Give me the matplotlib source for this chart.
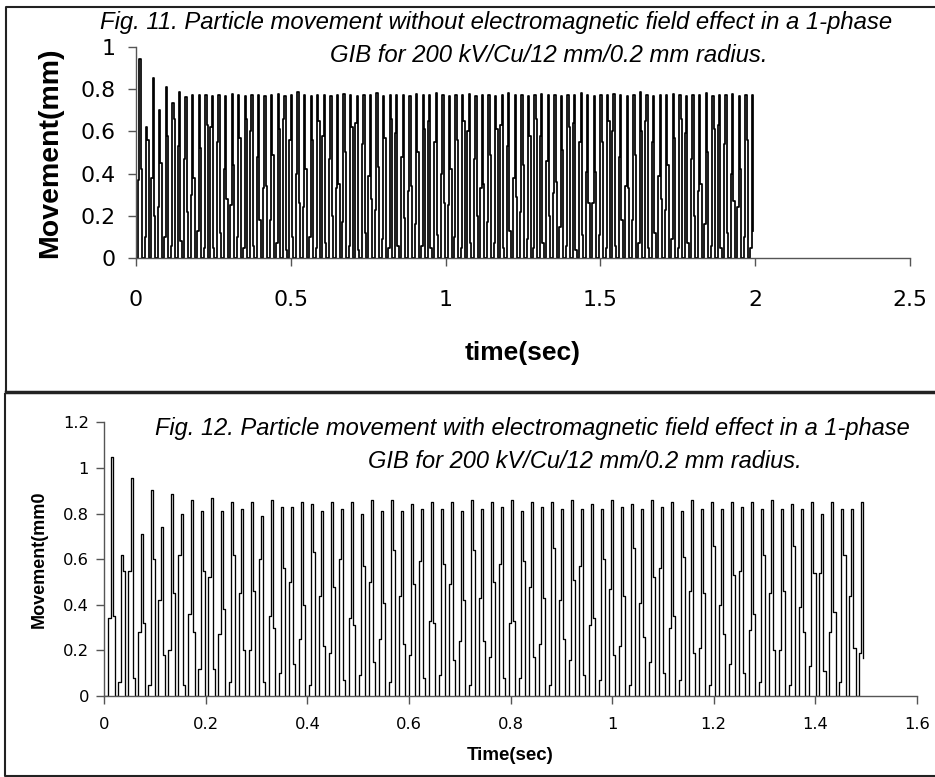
import numpy as np
import matplotlib
matplotlib.use('Agg')
import matplotlib.pyplot as plt
from matplotlib.lines import Line2D

plt.rcParams['font.family'] = ['Liberation Sans', 'DejaVu Sans']

# ---- Fig. 11: without electromagnetic field (one entry per bounce) ----
top_t0 = 0.0022       # first lift-off (s)
top_period = 0.02127  # time between lift-offs (s)
top_peak = [
    0.94, 0.62, 0.85, 0.70, 0.81, 0.735, 0.785, 0.76, 0.77, 0.77, 0.77, 0.765,
    0.77, 0.765, 0.775, 0.77, 0.765, 0.77, 0.77, 0.765, 0.77, 0.775, 0.765, 0.77,
    0.785, 0.77, 0.765, 0.77, 0.77, 0.765, 0.77, 0.775, 0.77, 0.765, 0.77, 0.77,
    0.78, 0.765, 0.77, 0.77, 0.77, 0.765, 0.775, 0.77, 0.77, 0.78, 0.77, 0.765,
    0.77, 0.77, 0.775, 0.765, 0.77, 0.77, 0.765, 0.77, 0.78, 0.77, 0.77, 0.765,
    0.77, 0.775, 0.77, 0.77, 0.765, 0.77, 0.77, 0.78, 0.77, 0.765, 0.77, 0.77,
    0.775, 0.77, 0.765, 0.77, 0.785, 0.77, 0.765, 0.77, 0.77, 0.775, 0.77, 0.765,
    0.77, 0.77, 0.78, 0.765, 0.77, 0.77, 0.775, 0.765, 0.77, 0.77]
top_up = [
    0.37, 0.10, 0.38, 0.24, 0.10, 0.06, 0.53, 0.47, 0.30, 0.13, 0.05, 0.62,
    0.55, 0.42, 0.25, 0.10, 0.05, 0.60, 0.48, 0.33, 0.18, 0.07, 0.66, 0.56,
    0.40, 0.24, 0.10, 0.05, 0.58, 0.47, 0.33, 0.17, 0.06, 0.64, 0.54, 0.39,
    0.23, 0.09, 0.05, 0.59, 0.48, 0.32, 0.16, 0.06, 0.65, 0.55, 0.40, 0.25,
    0.10, 0.05, 0.60, 0.47, 0.33, 0.17, 0.07, 0.63, 0.53, 0.38, 0.22, 0.09,
    0.05, 0.58, 0.46, 0.31, 0.15, 0.06, 0.64, 0.55, 0.41, 0.26, 0.11, 0.05,
    0.60, 0.48, 0.34, 0.18, 0.07, 0.65, 0.55, 0.39, 0.23, 0.09, 0.05, 0.59,
    0.47, 0.32, 0.16, 0.06, 0.63, 0.54, 0.40, 0.24, 0.10, 0.05]
top_down = [
    0.42, 0.56, 0.20, 0.45, 0.58, 0.66, 0.08, 0.22, 0.38, 0.52, 0.63, 0.05,
    0.12, 0.28, 0.44, 0.57, 0.66, 0.06, 0.18, 0.34, 0.49, 0.61, 0.04, 0.10,
    0.26, 0.42, 0.56, 0.65, 0.07, 0.20, 0.35, 0.50, 0.62, 0.04, 0.12, 0.28,
    0.43, 0.57, 0.66, 0.06, 0.19, 0.34, 0.50, 0.61, 0.05, 0.11, 0.26, 0.42,
    0.56, 0.65, 0.07, 0.20, 0.35, 0.49, 0.61, 0.05, 0.13, 0.29, 0.44, 0.58,
    0.66, 0.07, 0.20, 0.36, 0.51, 0.62, 0.04, 0.11, 0.26, 0.41, 0.55, 0.65,
    0.06, 0.18, 0.33, 0.49, 0.60, 0.05, 0.12, 0.28, 0.44, 0.57, 0.66, 0.07,
    0.20, 0.35, 0.50, 0.61, 0.05, 0.12, 0.27, 0.42, 0.56, 0.13]

# ---- Fig. 12: with electromagnetic field ----
bot_t0 = 0.0038
bot_period = 0.01971
bot_peak = [
    1.05, 0.62, 0.955, 0.71, 0.905, 0.74, 0.885, 0.80, 0.86, 0.81, 0.87, 0.81,
    0.85, 0.82, 0.85, 0.79, 0.86, 0.83, 0.83, 0.85, 0.84, 0.81, 0.85, 0.82,
    0.85, 0.80, 0.86, 0.81, 0.86, 0.81, 0.84, 0.82, 0.85, 0.82, 0.85, 0.81,
    0.86, 0.82, 0.85, 0.83, 0.86, 0.81, 0.85, 0.83, 0.85, 0.82, 0.86, 0.82,
    0.84, 0.82, 0.86, 0.83, 0.84, 0.82, 0.86, 0.83, 0.85, 0.81, 0.86, 0.82,
    0.85, 0.82, 0.85, 0.83, 0.85, 0.82, 0.86, 0.82, 0.84, 0.82, 0.85, 0.80,
    0.85, 0.82, 0.82, 0.85]
bot_up = [
    0.34, 0.06, 0.55, 0.28, 0.05, 0.42, 0.20, 0.62, 0.36, 0.12, 0.52, 0.27,
    0.06, 0.45, 0.20, 0.60, 0.35, 0.10, 0.50, 0.25, 0.05, 0.44, 0.19, 0.60,
    0.34, 0.09, 0.50, 0.25, 0.06, 0.44, 0.18, 0.59, 0.33, 0.09, 0.49, 0.24,
    0.05, 0.43, 0.17, 0.58, 0.32, 0.08, 0.48, 0.23, 0.05, 0.42, 0.16, 0.57,
    0.31, 0.07, 0.47, 0.22, 0.05, 0.41, 0.15, 0.56, 0.30, 0.07, 0.46, 0.21,
    0.05, 0.40, 0.14, 0.55, 0.29, 0.06, 0.45, 0.20, 0.05, 0.39, 0.13, 0.54,
    0.28, 0.06, 0.44, 0.19]
bot_down = [
    0.35, 0.55, 0.08, 0.32, 0.60, 0.18, 0.45, 0.05, 0.28, 0.55, 0.12, 0.38,
    0.62, 0.20, 0.46, 0.06, 0.30, 0.56, 0.14, 0.40, 0.63, 0.22, 0.48, 0.07,
    0.31, 0.57, 0.15, 0.41, 0.64, 0.23, 0.49, 0.08, 0.32, 0.58, 0.16, 0.42,
    0.64, 0.24, 0.50, 0.08, 0.33, 0.59, 0.17, 0.43, 0.65, 0.25, 0.51, 0.09,
    0.34, 0.60, 0.18, 0.44, 0.65, 0.26, 0.52, 0.10, 0.35, 0.61, 0.19, 0.45,
    0.66, 0.27, 0.53, 0.10, 0.36, 0.62, 0.20, 0.46, 0.66, 0.28, 0.54, 0.11,
    0.37, 0.62, 0.21, 0.165]


def bounce_trace(t0, period, up, peak, down, step=0.0043):
    # samples of each bounce: lift-off, rising, top, falling, landing
    xs, ys = [0.0], [0.0]
    for i, (u, p, d) in enumerate(zip(up, peak, down)):
        t = t0 + i * period
        xs += [t, t + step, t + 2 * step, t + 3 * step, t + 4 * step]
        ys += [0.0, u, p, d, 0.0]
    # the record stops while the particle is falling
    return xs[:-1], ys[:-1]


def style_axes(ax, fs, tick_len):
    for s in ['top', 'right']:
        ax.spines[s].set_visible(False)
    for s in ['left', 'bottom']:
        ax.spines[s].set_color('#555555')
        ax.spines[s].set_linewidth(1.0)
    ax.tick_params(direction='out', length=tick_len, width=1.0, color='#555555',
                   labelsize=fs, labelcolor='black')
    for lab in ax.get_xticklabels() + ax.get_yticklabels():
        lab.set_family('DejaVu Sans')


W, H = 935, 777
fig = plt.figure(figsize=(W / 100, H / 100), dpi=100)

# top chart
ax1 = fig.add_axes([136 / W, 1 - 258.3 / H, (910 - 136) / W, (258.3 - 46.6) / H])
x, y = bounce_trace(top_t0, top_period, top_up, top_peak, top_down)
ax1.plot(x, y, color='black', lw=1.25, drawstyle='steps-post')
ax1.set_xlim(0, 2.5)
ax1.set_ylim(0, 1)
ax1.set_xticks([0, 0.5, 1, 1.5, 2, 2.5])
ax1.set_xticklabels(['0', '0.5', '1', '1.5', '2', '2.5'])
ax1.set_yticks([0, 0.2, 0.4, 0.6, 0.8, 1])
ax1.set_yticklabels(['0', '0.2', '0.4', '0.6', '0.8', '1'])
style_axes(ax1, 15.8, 6)
ax1.tick_params(axis='x', pad=17)
ax1.tick_params(axis='y', pad=9)
ax1.set_xlabel('time(sec)', fontsize=19, fontweight='bold', labelpad=22)
ax1.set_ylabel('Movement(mm)', fontsize=20.5, fontweight='bold', labelpad=12)

fig.text(100 / W, 1 - 23 / H,
         'Fig. 11. Particle movement without electromagnetic field effect in a 1-phase',
         fontsize=17.2, style='italic', ha='left', va='center')
fig.text(330 / W, 1 - 55 / H, 'GIB for 200 kV/Cu/12 mm/0.2 mm radius.',
         fontsize=17.2, style='italic', ha='left', va='center')

# bottom chart
ax2 = fig.add_axes([104.3 / W, 1 - 696 / H, (916.7 - 104.3) / W, (696 - 422.4) / H])
x, y = bounce_trace(bot_t0, bot_period, bot_up, bot_peak, bot_down)
ax2.plot(x, y, color='black', lw=0.95, drawstyle='steps-post')
ax2.set_xlim(0, 1.6)
ax2.set_ylim(0, 1.2)
ax2.set_xticks([0, 0.2, 0.4, 0.6, 0.8, 1, 1.2, 1.4, 1.6])
ax2.set_xticklabels(['0', '0.2', '0.4', '0.6', '0.8', '1', '1.2', '1.4', '1.6'])
ax2.set_yticks([0, 0.2, 0.4, 0.6, 0.8, 1, 1.2])
ax2.set_yticklabels(['0', '0.2', '0.4', '0.6', '0.8', '1', '1.2'])
style_axes(ax2, 11.8, 5.5)
ax2.tick_params(axis='x', pad=9.5)
ax2.tick_params(axis='y', pad=5.5)
ax2.set_xlabel('Time(sec)', fontsize=13.5, fontweight='bold', labelpad=11)
ax2.set_ylabel('Movement(mm0', fontsize=13, fontweight='bold', labelpad=11)

fig.text(155 / W, 1 - 428 / H,
         'Fig. 12. Particle movement with electromagnetic field effect in a 1-phase',
         fontsize=17, style='italic', ha='left', va='center')
fig.text(368 / W, 1 - 462 / H, 'GIB for 200 kV/Cu/12 mm/0.2 mm radius.',
         fontsize=17, style='italic', ha='left', va='center')

# frames round the two figures
def frame(xs, ys, lw):
    fig.add_artist(Line2D([v / W for v in xs], [1 - v / H for v in ys],
                          transform=fig.transFigure, color='#222222', lw=lw))

frame([W, 6, 6], [7, 7, 391], 1.5)
frame([6, W], [392, 392], 2.5)
frame([5, 5, W], [394, 776, 776], 1.5)

fig.savefig('out.png', dpi=100)
